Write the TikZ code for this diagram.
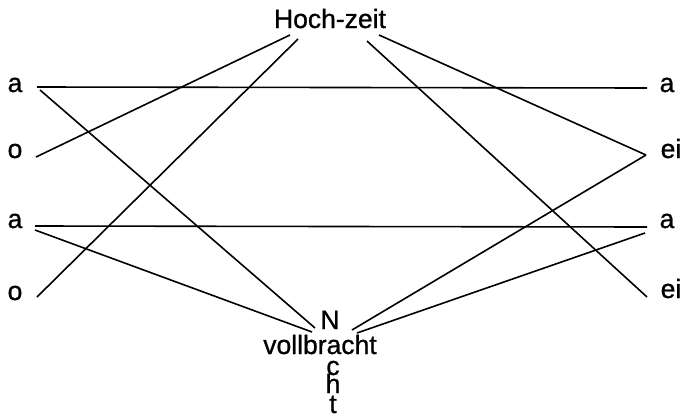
\documentclass[tikz,border=0pt]{standalone}
\usepackage{fontspec}
\setmainfont{Liberation Sans}
\newfontfamily\lblfont{Liberation Sans}[FakeBold=0.9]
\begin{document}
\begin{tikzpicture}[x=1pt,y=-1pt,
  lbl/.style={font=\lblfont\fontsize{26.5}{26.5}\selectfont,inner sep=0pt,anchor=base},
  wire/.style={line width=1.6pt}]
\useasboundingbox (0,0) rectangle (681,418);
% labels
\node[lbl] (hz) at (330,28) {Hoch-zeit};
\node[lbl] (la1) at (15,92) {a};
\node[lbl] (lo1) at (15,158) {o};
\node[lbl] (la2) at (15,228) {a};
\node[lbl] (lo2) at (15,300) {o};
\node[lbl] (ra1) at (667,92) {a};
\node[lbl] (rei1) at (671,158) {ei};
\node[lbl] (ra2) at (667,228) {a};
\node[lbl] (rei2) at (671,298) {ei};
\node[lbl] (nN) at (330,329) {N};
\node[lbl] (voll) at (320,354) {vollbracht};
\node[lbl] (nc) at (333,375) {c};
\node[lbl] (nh) at (333,393) {h};
\node[lbl] (nt) at (333,413) {t};
% line ends
\coordinate (hzL1) at (290,35);
\coordinate (hzL2) at (298,39);
\coordinate (hzR1) at (367,41);
\coordinate (hzR2) at (379,35);
\coordinate (nL1) at (312,332);
\coordinate (nL2) at (315,328);
\coordinate (nR1) at (352,330);
\coordinate (nR2) at (357,333);
\coordinate (pa1) at (37,87);
\coordinate (pa1x) at (40,90);
\coordinate (po1) at (36,157);
\coordinate (pa2) at (35,226);
\coordinate (pa2x) at (35,230);
\coordinate (po2) at (37,297);
\coordinate (qa1) at (647,88);
\coordinate (qei1) at (646,155);
\coordinate (qa2) at (647,227);
\coordinate (qa2x) at (645,233);
\coordinate (qei2) at (647,297);
% connectors
\draw[wire] (pa1) -- (qa1);
\draw[wire] (pa2) -- (qa2);
\draw[wire] (po1) -- (hzL1);
\draw[wire] (po2) -- (hzL2);
\draw[wire] (pa1x) -- (nL2);
\draw[wire] (pa2x) -- (nL1);
\draw[wire] (hzR2) -- (qei1);
\draw[wire] (hzR1) -- (qei2);
\draw[wire] (nR1) -- (qei1);
\draw[wire] (nR2) -- (qa2x);
\end{tikzpicture}
\end{document}
